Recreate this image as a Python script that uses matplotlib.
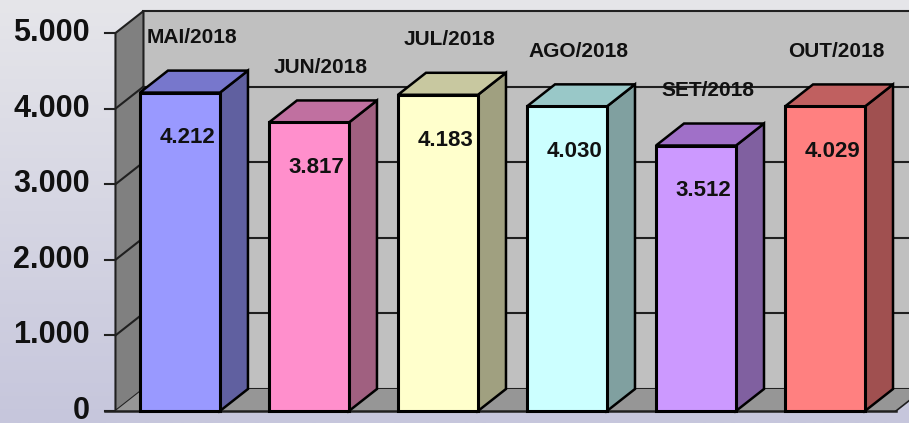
import numpy as np
import matplotlib
matplotlib.use('Agg')
import matplotlib.pyplot as plt
from matplotlib.patches import Polygon
from matplotlib.colors import LinearSegmentedColormap

# dados
meses = ['MAI/2018', 'JUN/2018', 'JUL/2018', 'AGO/2018', 'SET/2018', 'OUT/2018']
valores = [4212, 3817, 4183, 4030, 3512, 4029]
rotulos = ['4.212', '3.817', '4.183', '4.030', '3.512', '4.029']
ticks = [0, 1000, 2000, 3000, 4000, 5000]
tick_labels = ['0', '1.000', '2.000', '3.000', '4.000', '5.000']

cor_frente = ['#9999ff', '#ff8fcc', '#ffffcc', '#ccffff', '#cc99ff', '#ff8080']
cor_lado = ['#6060a0', '#a06080', '#a0a080', '#80a0a0', '#8060a0', '#a05050']
cor_topo = ['#7777cc', '#c070a0', '#c8c8a0', '#99c8c8', '#a070c8', '#c06060']

# geometria 3d (unidades de dados)
dx, dy = 0.217, 291
larg = 0.31
x0, x1 = -0.5, 5.55
ymax = 5000

fig = plt.figure(figsize=(9.09, 4.23), dpi=100)
ax = fig.add_axes([0, 0, 1, 1])
ax.set_xlim(-1.395, 5.651)
ax.set_ylim(-159, 5437)
ax.axis('off')

# fundo em degrade
grad = np.linspace(0, 1, 256).reshape(-1, 1)
cmap = LinearSegmentedColormap.from_list('bg', ['#c6c6dc', '#e6e6ea'])
ax.imshow(grad, extent=[-1.395, 5.651, -159, 5437], origin='lower',
          aspect='auto', cmap=cmap, zorder=0)

ec = '#202020'
# parede do fundo
ax.add_patch(Polygon([(x0 + dx, dy), (x1 + dx, dy), (x1 + dx, ymax + dy), (x0 + dx, ymax + dy)],
                     closed=True, fc='#c0c0c0', ec=ec, lw=1.5, zorder=1))
# parede lateral
ax.add_patch(Polygon([(x0, 0), (x0 + dx, dy), (x0 + dx, ymax + dy), (x0, ymax)],
                     closed=True, fc='#808080', ec=ec, lw=1.5, zorder=1))
# piso
ax.add_patch(Polygon([(x0, 0), (x1, 0), (x1 + dx, dy), (x0 + dx, dy)],
                     closed=True, fc='#969696', ec='none', zorder=1))

# grade e ticks
for t in ticks[1:-1]:
    ax.plot([x0 + dx, x1 + dx], [t + dy, t + dy], color=ec, lw=1.5, zorder=2)
    ax.plot([x0, x0 + dx], [t, t + dy], color=ec, lw=1.5, zorder=2)
for t, lab in zip(ticks, tick_labels):
    ax.plot([x0 - 0.08, x0], [t, t], color=ec, lw=1.5, zorder=2)
    ax.text(x0 - 0.2, t, lab, ha='right', va='center', fontsize=22,
            fontweight='bold', family='Liberation Sans', color='#111111', zorder=5)
ax.plot([x0 - 0.08, x1], [0, 0], color=ec, lw=1.8, zorder=2)
ax.plot([x1, x1 + dx], [0, dy], color=ec, lw=1.2, zorder=2)

# barras 3d
for i, v in enumerate(valores):
    l, r = i - larg, i + larg
    ax.add_patch(Polygon([(r, 0), (r + dx, dy), (r + dx, v + dy), (r, v)],
                         closed=True, fc=cor_lado[i], ec='black', lw=1.8, zorder=3))
    ax.add_patch(Polygon([(l, v), (r, v), (r + dx, v + dy), (l + dx, v + dy)],
                         closed=True, fc=cor_topo[i], ec='black', lw=1.8, zorder=3))
    ax.add_patch(Polygon([(l, 0), (r, 0), (r, v), (l, v)],
                         closed=True, fc=cor_frente[i], ec='black', lw=2.2, zorder=4))
    ax.text(i + 0.06, v - 600, rotulos[i], ha='center', va='center', fontsize=16,
            fontweight='bold', family='Liberation Sans', color='#111111', zorder=5)
    ax.text(i + 0.09, v + 730, meses[i], ha='center', va='center', fontsize=15,
            fontweight='bold', family='Liberation Sans', color='#111111', zorder=5)

fig.savefig('out.png', dpi=100)
